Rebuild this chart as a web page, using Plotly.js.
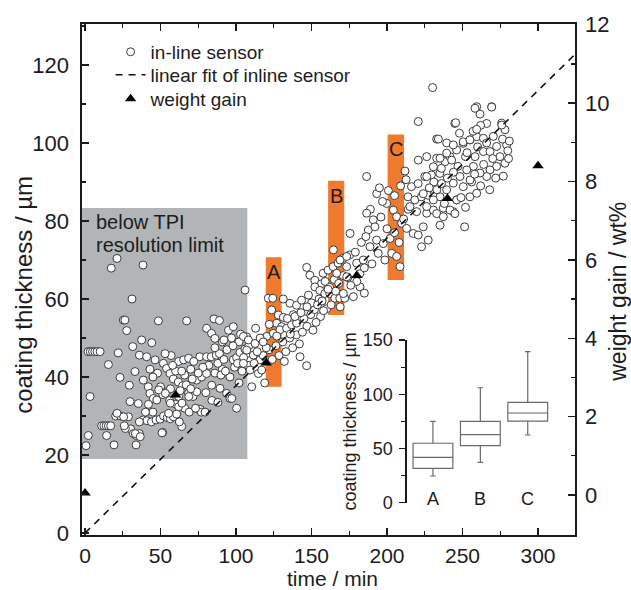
<!DOCTYPE html>
<html>
<head>
<meta charset="utf-8">
<script src="https://cdn.plot.ly/plotly-3.0.1.min.js"></script>
<style>html,body{margin:0;padding:0;background:#fff;}#chart{width:631px;height:590px;}</style>
</head>
<body>
<div id="chart"></div>
<script>
// ---- in-line sensor data (time / min, coating thickness / µm) ----
const timeGray = [
0.7,2.2,3.3,2,3.5,5,6.5,8,10,11,
12.5,14,15.5,17,15.5,14.3,19.2,17.4,21.2,22,
23.2,20.3,23.6,25.4,26.4,27.6,31.1,29.4,29.8,28.7,
30.2,32,34,36,33.8,31.6,33.1,35.3,37.5,38.4,
36,40.8,46.4,38.6,41.9,43,45.3,47.5,38.6,41,
44,47,49.7,44.2,48.6,52,54.5,56.5,58.5,60.7,
51.4,51.9,54,56.3,51.5,54,56.6,58.5,61.8,64.7,
62,65.3,68.6,64,67.3,68.5,71.6,74,73.9,77.2,
80.5,76,80.5,74,76.3,83.6,86.9,89,85.4,80.5,
83.8,86,83.9,89.4,93.8,96,97.2,98.2,100.4,102.6,
105.9,95,98.2,100.4,107,106,108,104,102,96,
91,88,92,94,86,82,78,70,66,60,
58,48,45,43,60,62,66,69,56,80,
84,88,104,107,102,98,91,89,77,79.5,
63,67,71,75,72,86,90,93,99,101,
105,108.5,103,97,92,70,64,57,53,50,
48.8,53.2,56.5,62,64.2,68.7,73.2,51,45,42,
21.2,25.6,26.7,33.3,36.6,62.5,26,36,40,55.4
];
const thickGray = [
22.4,25,35,46.5,46.5,46.5,46.5,46.5,46.5,27.5,
27.5,27.5,27.5,27.5,43.2,25,22.6,67.9,70.4,46.2,
39.9,30,30,54.6,54.6,51.9,60,37.9,33.7,29.8,
26.7,25.5,25,25.5,22.6,47.8,41.4,33.2,49.5,68.7,
45.6,45.2,44.4,39.2,37.5,35.8,34.5,34.1,29,28.8,
28.5,29,29.2,48.8,54.4,30,29.6,29.3,29.8,30.5,
25.8,43.5,42.2,40.9,35.5,36.2,37,39.5,38.7,37.8,
44,44.4,44.8,27.3,54.4,35.8,35,36.2,39.2,40,
40.9,45.2,45.2,31.9,31.7,45.2,45.6,46,54.9,52.5,
51.2,49.9,37.9,37.1,35.8,34.5,34.5,44.4,45,46.3,
47.2,52,52.9,32,50.3,62.3,43,41.5,38.5,40,
42,43.5,44.5,47,41,43,42.5,42,40.5,41.5,
43,41,40,42,33,35,32,31,34,36,
34,33.5,44,46,49,48,49,54.5,31,31,
36.5,38,39.5,41,44,47.5,40.5,41.5,42.5,43.5,
45,48,51,50,49.5,37,41.5,45.5,46,37.5,
36.7,35.8,33.3,32.4,33.3,35,32,25.7,31,33,
30.7,29.8,26.8,25.5,24.7,28.5,27.5,28.5,31,30.7
];
const timeMid = [
104.9,108.2,112.6,107.1,111.5,115.9,104.9,109.3,114.8,110.4,
117,121.4,124.3,131.3,123.6,128,131.3,126.9,130.2,120.3,
124.7,129.1,133.5,136.8,140.1,122,126.5,131,135.5,140,
124,128.5,133,137.5,142,135.7,140.1,143.4,142.4,146.8,
145,149.5,152,147,151,156,155,148,146.8,148.9,
152.2,156.6,152.2,155.5,158.8,162.1,165.4,168.7,172,157.7,
161,164.3,167.6,170.9,175.3,173.3,160,163,118,119,
113,116,144,150,159,162,165,168,171,174,
132,138,154,158,166,169,112,120,127,134,
114,118,122,136,139,143,147,153,157,161
];
const thickMid = [
50.4,49.5,48.6,46.9,45.6,44.4,43.5,41.8,40.9,37.5,
41.8,60.2,60.2,60,57.2,55.9,55.3,53.8,52.9,50.4,
51.2,52.1,52.5,53.4,53.8,47,48,49,50,50.8,
44.5,45.5,46.5,47.5,48.5,58.9,58.4,59.7,45.2,42.9,
55,56,57.3,53,52,55.5,60,61,68.1,66.1,
64.8,63.9,63.1,62.2,61.4,61.4,60.2,60.2,60.2,66.6,
67.4,68.3,69.2,70.4,71.3,68.3,57.5,58.5,45.5,38.5,
52.5,50,51.5,59,64.5,63,65,64,66,65.5,
44,56,58.5,57,62,58,43.5,47.5,50.5,55,
46.5,49,53.5,51,55.5,56.5,58,54,59.5,62.5
];
const timeHigh = [
164.5,168.9,173.3,179.9,184.3,166.7,173.3,182.1,177.7,171.1,
175.5,190.9,187.6,193.1,197.5,188.7,194.2,198.6,193.2,186.5,
200.9,199.8,204.2,206.4,209.7,213,217.4,220.7,203.1,206.4,
208.6,211.9,212.6,213.9,218.4,222.8,227.2,231.6,216.2,220.6,
225,229.4,235,236.1,235.1,251.4,220.7,232.9,239.5,244.9,
230.2,182,185,179,183,186,190,192,196,200,
202,205,208,211,214,180,185,176,197,189,
220.7,226.3,232.9,238.4,241.7,246.1,250.5,254.9,259.4,215.2,
219.6,226.3,230.7,237.3,243.9,246.1,186.5,195,205,209
];
const thickHigh = [
72.6,70,70.9,69.2,70,66.6,65.7,63.1,60.6,61.4,
76.8,80.3,77.7,75.1,74.2,73.4,71.7,70,87,91.4,
87.8,84.5,82.8,81.1,79.4,78.1,76.8,76.4,71.7,70.9,
68.3,92.8,90.6,86.2,85.4,86.2,86.6,87.1,88.8,89.6,
91.4,91.8,92.2,89.6,78.9,78.5,105.5,101,100,105,
114.2,66.5,68,72,74.5,76,69,78.5,81,78,
75.5,77,74.5,80.5,83,64.5,61.5,63.5,85,83,
95.6,96.5,96.1,95.2,96.5,98.2,99.9,100.8,101.6,83.7,
82.4,82,82.8,83.3,82.4,85.4,82,88.5,86.5,89
];
const timeEnd = [
226.3,230.7,235.1,239.5,243.9,250.5,254.9,263.8,270.4,275.9,
278.1,279.2,278.1,272.6,268.2,266,261.6,257.2,252.8,248.3,
243.9,239.5,235.1,230.7,226.3,246.1,254.9,259.4,250.5,258.3,
263.8,268.2,272.6,274.8,242.8,232.9,237.3,241.7,245,224,
227.3,222.9,259.4,261.6,269.3,245.5,234,266,276,280,
270,264,256,252,247,262,248,276.5,281,280.5,
277,272,268,266,262,257,253,244,240,236,
231,228,224,233,238,260,255,249,252,258,
258.3,269.3,259.4
];
const thickEnd = [
91.4,93.9,96.1,97.4,99.5,100.3,100.8,101.2,101.7,105.1,
103.4,99.5,94.8,94,93.1,91.4,92.3,94,93.1,91.4,
89.7,88,86.2,85.4,83.7,85.4,86.2,87.1,88.8,96.5,
97.8,97.8,99.1,96.5,95.6,81.9,81.1,82.8,81.9,78.5,
75.1,73.4,109.3,107.4,109.3,105.2,101,105,104.6,98,
96,94.5,90,96.5,94,89,102.5,101,100.5,96,
91.5,91,88,100,104.5,103,97.5,92.5,91,93.5,
90,88.5,87,88,84.5,99,90.5,86,83.5,92,
108.9,109.2,103.5
];
const sensorTime = [].concat(timeGray, timeMid, timeHigh, timeEnd);
const sensorThickness = [].concat(thickGray, thickMid, thickHigh, thickEnd);

// linear fit endpoints
const fitTime = [0, 325];
const fitThickness = [0, 122.9];

// weight gain (wt%)
const gainTime = [0, 60, 120, 180, 240, 300];
const gainValue = [0.05, 2.55, 3.37, 5.6, 7.57, 8.4];

// inset box plot (coating thickness / µm)
const boxCategories = ['A', 'B', 'C'];
const boxLow = [24.6, 37.2, 62.4];
const boxQ1 = [31.7, 52.6, 75.3];
const boxMedian = [41.8, 62.7, 82.7];
const boxQ3 = [54.8, 75, 92.5];
const boxHigh = [75, 106, 139.2];

// highlighted regions
const grayRegion = {t0: -2, t1: 107.5, y0: 19, y1: 83.3};
const barLabels = ['A', 'B', 'C'];
const barT0 = [119.7, 161, 200.4];
const barT1 = [130.2, 171.7, 211.3];
const barBottom = [37.5, 55.9, 64.9];
const barTop = [70.7, 90.3, 102.2];

const FONT = 'Liberation Sans, Arial, sans-serif';
const INK = '#1c1c1c';

const traces = [
  {
    type: 'scatter', mode: 'markers', name: 'in-line sensor', legend: 'legend',
    x: sensorTime, y: sensorThickness,
    marker: {symbol: 'circle', size: 8, color: '#ffffff', line: {color: '#3a3a3a', width: 1}},
    hoverinfo: 'skip'
  },
  {
    type: 'scatter', mode: 'lines', name: 'linear fit of inline sensor', legend: 'legend2',
    x: fitTime, y: fitThickness,
    line: {color: '#111', width: 1.6, dash: '7px,6px'},
    hoverinfo: 'skip'
  },
  {
    type: 'scatter', mode: 'markers', name: 'weight gain', legend: 'legend3',
    x: gainTime, y: gainValue, yaxis: 'y2',
    marker: {symbol: 'triangle-up', size: 10, color: '#000'},
    hoverinfo: 'skip'
  },
  {
    type: 'box', x: boxCategories, q1: boxQ1, median: boxMedian, q3: boxQ3,
    lowerfence: boxLow, upperfence: boxHigh,
    xaxis: 'x3', yaxis: 'y3', showlegend: false, boxpoints: false,
    fillcolor: '#ffffff', line: {color: '#6a6a6a', width: 1.2},
    whiskerwidth: 0.14, width: 0.84, hoverinfo: 'skip'
  }
];

const shapes = [{
  type: 'rect', xref: 'x', yref: 'y', layer: 'below',
  x0: grayRegion.t0, x1: grayRegion.t1, y0: grayRegion.y0, y1: grayRegion.y1,
  fillcolor: '#b2b5b8', line: {width: 0}
}];
const annotations = [];
for (let i = 0; i < barLabels.length; i++) {
  shapes.push({
    type: 'rect', xref: 'x', yref: 'y', layer: 'below',
    x0: barT0[i], x1: barT1[i], y0: barBottom[i], y1: barTop[i],
    fillcolor: '#f07a2e', line: {width: 0}
  });
  annotations.push({
    xref: 'x', yref: 'y', x: (barT0[i] + barT1[i]) / 2, y: barTop[i],
    yanchor: 'top', yshift: -2, text: barLabels[i], showarrow: false,
    font: {family: FONT, size: 20, color: INK}
  });
}
annotations.push({xref: 'x', yref: 'y', x: 6, y: 79.7, xanchor: 'left', yanchor: 'middle',
  text: 'below TPI', showarrow: false, font: {family: FONT, size: 20, color: INK}});
annotations.push({xref: 'x', yref: 'y', x: 6, y: 73.8, xanchor: 'left', yanchor: 'middle',
  text: 'resolution limit', showarrow: false, font: {family: FONT, size: 20, color: INK}});
for (let i = 0; i < boxCategories.length; i++) {
  annotations.push({xref: 'x3', yref: 'y3', x: boxCategories[i], y: 3.4, yanchor: 'middle',
    text: boxCategories[i], showarrow: false, font: {family: FONT, size: 18, color: INK}});
}
// axis titles
annotations.push({xref: 'paper', yref: 'paper', x: 0, xshift: -58, y: 0.47, xanchor: 'center', yanchor: 'middle',
  textangle: -90, text: 'coating thickness / µm', showarrow: false, font: {family: FONT, size: 24, color: INK}});
annotations.push({xref: 'paper', yref: 'paper', x: 1, xshift: 43, y: 0.476, xanchor: 'center', yanchor: 'middle',
  textangle: -90, text: 'weight gain / wt%', showarrow: false, font: {family: FONT, size: 23, color: INK}});
annotations.push({xref: 'paper', yref: 'paper', x: 0.5, xshift: 4, y: 0, yshift: -43, xanchor: 'center', yanchor: 'middle',
  text: 'time / min', showarrow: false, font: {family: FONT, size: 21, color: INK}});

const axisLine = {showline: true, linecolor: '#1a1a1a', linewidth: 1.6, zeroline: false, showgrid: false};
const legendBase = {x: 0.058, xanchor: 'left', yanchor: 'top', bgcolor: 'rgba(0,0,0,0)',
  font: {family: FONT, size: 19, color: INK}, itemwidth: 30};

const layout = {
  width: 631, height: 590,
  margin: {l: 82, r: 56, t: 24, b: 55, pad: 0},
  paper_bgcolor: '#ffffff', plot_bgcolor: '#ffffff',
  font: {family: FONT, color: INK, size: 20},
  showlegend: true,
  legend: Object.assign({}, legendBase, {y: 0.9825}),
  legend2: Object.assign({}, legendBase, {y: 0.9375}),
  legend3: Object.assign({}, legendBase, {y: 0.8905}),
  xaxis: Object.assign({}, axisLine, {
    range: [-2, 324.5], tick0: 0, dtick: 50, ticks: 'inside', ticklen: 7, tickwidth: 1.4,
    tickcolor: '#1a1a1a', mirror: 'ticks', ticklabelstandoff: 1,
    minor: {ticks: 'inside', ticklen: 4, dtick: 25, tick0: 0, tickcolor: '#1a1a1a', tickwidth: 1.2},
    tickfont: {family: FONT, size: 21, color: INK}
  }),
  yaxis: Object.assign({}, axisLine, {
    range: [-0.5, 130.5], tick0: 0, dtick: 20, ticks: 'inside', ticklen: 7, tickwidth: 1.4,
    tickcolor: '#1a1a1a', ticklabelstandoff: 7,
    minor: {ticks: 'inside', ticklen: 4, dtick: 10, tick0: 0, tickcolor: '#1a1a1a', tickwidth: 1.2},
    tickfont: {family: FONT, size: 22, color: INK}
  }),
  yaxis2: Object.assign({}, axisLine, {
    overlaying: 'y', side: 'right', anchor: 'x',
    range: [-1.02, 12.02], tick0: 0, dtick: 2, ticks: 'inside', ticklen: 7, tickwidth: 1.4,
    tickcolor: '#1a1a1a', ticklabelstandoff: 4,
    minor: {ticks: 'inside', ticklen: 4, dtick: 1, tick0: 0, tickcolor: '#1a1a1a', tickwidth: 1.2},
    tickfont: {family: FONT, size: 22, color: INK}
  }),
  xaxis3: {
    domain: [0.659, 0.957], anchor: 'y3', type: 'category', range: [-0.55, 2.55],
    showline: false, showticklabels: false, ticks: '', zeroline: false, showgrid: false
  },
  yaxis3: {
    domain: [0.0632, 0.3816], anchor: 'x3', range: [0, 150],
    showline: true, linecolor: '#1a1a1a', linewidth: 1.6, zeroline: false, showgrid: false,
    tick0: 0, dtick: 50, ticks: 'outside', ticklen: 6, tickwidth: 1.4, tickcolor: '#1a1a1a',
    minor: {ticks: 'outside', ticklen: 4, dtick: 25, tick0: 0, tickcolor: '#1a1a1a', tickwidth: 1.2},
    ticklabelstandoff: 3,
    tickfont: {family: FONT, size: 18, color: INK},
    title: {text: 'coating thickness / µm', font: {family: FONT, size: 18, color: INK}, standoff: 1}
  },
  shapes: shapes,
  annotations: annotations
};

Plotly.newPlot('chart', traces, layout, {staticPlot: true, displayModeBar: false});
</script>
</body>
</html>
